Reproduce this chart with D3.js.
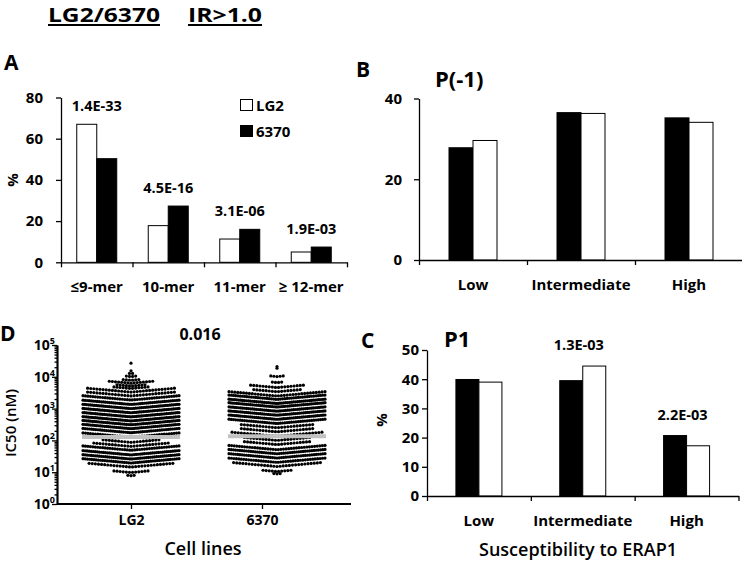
<!DOCTYPE html>
<html><head><meta charset="utf-8">
<script src="https://cdn.jsdelivr.net/npm/d3@7"></script>
<style>
body{margin:0;background:#fff}
svg{display:block}
text{font-family:"Open Sans",sans-serif;fill:#000}
</style>
</head><body>
<svg id="c" width="742" height="561"></svg>
<script>
// ---------- DATA ----------
// Panel A: peptide length distribution (%)
const merCategories = ["\u22649-mer", "10-mer", "11-mer", "\u2265 12-mer"];
const merLG2 = [67.0, 17.8, 11.3, 5.0];
const mer6370 = [50.3, 27.3, 16.0, 7.4];
const merPvals = ["1.4E-33", "4.5E-16", "3.1E-06", "1.9E-03"];
const merTicks = [0, 20, 40, 60, 80];

// Panels B and C: susceptibility to ERAP1
const susCategories = ["Low", "Intermediate", "High"];
const pm1_6370 = [27.8, 36.5, 35.2];
const pm1_LG2 = [29.6, 36.3, 34.1];
const pm1Ticks = [0, 20, 40];
const p1_6370 = [39.9, 39.5, 20.7];
const p1_LG2 = [39.0, 44.5, 17.2];
const p1Pvals = ["", "1.3E-03", "2.2E-03"];
const p1Ticks = [0, 10, 20, 30, 40, 50];

// Panel D: IC50 scatter, binned rows (IC50 nM of row, number of peptides in row)
const cellLines = ["LG2", "6370"];
const lg2RowIC50  = [26900, 15500, 12600, 10200, 7800, 6300, 5100, 4300, 3300, 2500, 1860, 1350, 1000, 740, 550, 410, 310, 234, 174, 126, 87, 65, 49, 35, 26, 19.5, 14.5, 9.8, 7.8];
const lg2RowCount = [1, 1, 2, 4, 6, 15, 10, 12, 29, 29, 40, 48, 52, 55, 55, 55, 52, 50, 46, 40, 19, 25, 40, 48, 48, 45, 28, 12, 3];
const c6370RowIC50  = [21000, 18600, 10200, 6600, 4600, 3400, 2500, 1950, 1450, 1120, 830, 620, 460, 340, 250, 186, 135, 100, 74, 51, 38, 28, 20.4, 15.1, 10.5, 8.9];
const c6370RowCount = [1, 1, 5, 4, 18, 16, 34, 44, 50, 50, 50, 50, 50, 44, 24, 24, 30, 22, 22, 38, 45, 45, 40, 29, 10, 3];
const medianIC50 = [128, 135];
const ic50Pval = "0.016";
const ic50Ticks = [1, 10, 100, 1000, 10000, 100000];

// ---------- DRAWING ----------
const svg = d3.select("#c");
svg.append("rect").attr("width", 742).attr("height", 561).attr("fill", "#fff");

function txt(x, y, s, size, weight, anchor) {
  return svg.append("text").attr("x", x).attr("y", y).text(s)
    .attr("font-size", size).attr("font-weight", weight || 700)
    .attr("text-anchor", anchor || "start");
}
function styleAxis(g, fs) {
  g.attr("font-family", null).attr("font-size", null);
  g.selectAll("path.domain").attr("stroke", "#000").attr("stroke-width", 1.3);
  g.selectAll(".tick line").attr("stroke", "#000").attr("stroke-width", 1.3);
  g.selectAll(".tick text").attr("font-size", fs).attr("font-weight", 700)
    .style("font-family", '"Open Sans",sans-serif');
}

// Title
txt(48, 21.5, "LG2/6370", 19.5, 700).attr("textLength", 112).attr("lengthAdjust", "spacingAndGlyphs");
txt(188, 21.5, "IR>1.0", 19.5, 700).attr("textLength", 74).attr("lengthAdjust", "spacingAndGlyphs");
svg.append("line").attr("x1", 48).attr("x2", 160).attr("y1", 25).attr("y2", 25).attr("stroke", "#000").attr("stroke-width", 2);
svg.append("line").attr("x1", 188).attr("x2", 262).attr("y1", 25).attr("y2", 25).attr("stroke", "#000").attr("stroke-width", 2);

// Panel letters
txt(4, 70, "A", 21, 700);
txt(356, 77, "B", 21, 700);
txt(0, 341, "D", 21, 700);
txt(361, 348, "C", 21, 700);

function barPanel(cfg) {
  const x = d3.scaleBand().domain(cfg.cats).range([cfg.left, cfg.right]).padding(0);
  const y = d3.scaleLinear().domain([0, cfg.yMax]).range([cfg.bottom, cfg.top]);
  const xs = d3.scaleBand().domain(d3.range(cfg.series.length)).range([-cfg.groupW / 2, cfg.groupW / 2]);
  const g = svg.append("g");
  cfg.series.forEach((s, si) => {
    g.selectAll(null).data(s.values).join("rect")
      .attr("x", (d, i) => x(cfg.cats[i]) + x.bandwidth() / 2 + xs(si))
      .attr("y", d => y(d))
      .attr("width", xs.bandwidth())
      .attr("height", d => cfg.bottom - y(d))
      .attr("fill", s.fill).attr("stroke", "#000").attr("stroke-width", 1);
  });
  const ya = svg.append("g").attr("transform", `translate(${cfg.left},0)`)
    .call(d3.axisLeft(y).tickValues(cfg.yTicks).tickSize(5).tickSizeOuter(0).tickPadding(cfg.tickPad));
  styleAxis(ya, 15);
  const xl = d3.scaleLinear().domain([0, cfg.cats.length]).range([cfg.left, cfg.right]);
  const xa = svg.append("g").attr("transform", `translate(0,${cfg.bottom})`)
    .call(d3.axisBottom(xl).tickValues(d3.range(cfg.cats.length + 1)).tickFormat("").tickSize(5).tickSizeOuter(0));
  styleAxis(xa, 15);
  g.selectAll(null).data(cfg.cats).join("text")
    .attr("x", d => x(d) + x.bandwidth() / 2).attr("y", cfg.labelY)
    .attr("text-anchor", "middle").attr("font-size", 15).attr("font-weight", 700).text(d => d);
  if (cfg.pvals) {
    g.selectAll(null).data(cfg.pvals).join("text")
      .attr("x", (d, i) => x(cfg.cats[i]) + x.bandwidth() / 2 + cfg.pDx)
      .attr("y", (d, i) => y(d3.max(cfg.series, s => s.values[i])) - cfg.pGap)
      .attr("text-anchor", "middle").attr("font-size", 14.5).attr("font-weight", 700).text(d => d);
  }
  return {x, y};
}

// Panel A
barPanel({cats: merCategories, series: [{values: merLG2, fill: "#fff"}, {values: mer6370, fill: "#000"}],
  yMax: 80, yTicks: merTicks, left: 61, right: 347, top: 97.5, bottom: 262.3, groupW: 40,
  labelY: 292, tickPad: 13, pvals: merPvals, pDx: 0, pGap: 13});
txt(0, 0, "%", 15, 700, "middle").attr("transform", "translate(18,180) rotate(-90)");
// legend
svg.append("rect").attr("x", 240.5).attr("y", 99.5).attr("width", 12).attr("height", 11).attr("fill", "#fff").attr("stroke", "#000");
svg.append("rect").attr("x", 240.5).attr("y", 125.5).attr("width", 12).attr("height", 11).attr("fill", "#000").attr("stroke", "#000");
txt(256, 110.5, "LG2", 15, 700);
txt(256, 136.5, "6370", 15, 700);

// Panel B
barPanel({cats: susCategories, series: [{values: pm1_6370, fill: "#000"}, {values: pm1_LG2, fill: "#fff"}],
  yMax: 40, yTicks: pm1Ticks, left: 419, right: 743, top: 98.5, bottom: 260, groupW: 48,
  labelY: 290, tickPad: 12});
txt(435, 87, "P(-1)", 22, 700);

// Panel C
barPanel({cats: susCategories, series: [{values: p1_6370, fill: "#000"}, {values: p1_LG2, fill: "#fff"}],
  yMax: 50, yTicks: p1Ticks, left: 427, right: 738.5, top: 350, bottom: 496, groupW: 46,
  labelY: 526, tickPad: 3, pvals: p1Pvals, pDx: -4, pGap: 16});
txt(444, 347, "P1", 22, 700);
txt(0, 0, "%", 15, 700, "middle").attr("transform", "translate(387,420) rotate(-90)");
txt(578, 556, "Susceptibility to ERAP1", 18, 600, "middle");

// Panel D
// tick/label positions and dot-column positions (the 6370 column sits right of its tick in the original)
const xTickD = d3.scalePoint().domain(cellLines).range([131, 262]);
const xColD = d3.scalePoint().domain(cellLines).range([131, 277]);
const yD = d3.scaleLog().domain([1, 100000]).range([504, 345]);
const rowsByCell = [
  lg2RowIC50.map((v, i) => ({v, n: lg2RowCount[i]})),
  c6370RowIC50.map((v, i) => ({v, n: c6370RowCount[i]}))
];
const dots = [];
rowsByCell.forEach((rows, ci) => {
  rows.forEach(r => {
    const sp = r.n > 1 ? Math.min(3.1, 96 / (r.n - 1)) : 0;
    for (let i = 0; i < r.n; i++) {
      const off = (i - (r.n - 1) / 2) * sp;
      dots.push({cell: cellLines[ci], v: r.v, off});
    }
  });
});
svg.append("g").selectAll("circle").data(dots).join("circle")
  .attr("cx", d => xColD(d.cell) + d.off)
  .attr("cy", d => yD(d.v) - Math.abs(d.off) * 0.09)
  .attr("r", 1.6).attr("fill", "#000");
svg.append("g").selectAll("line").data(medianIC50).join("line")
  .attr("x1", (d, i) => xColD(cellLines[i]) - 49).attr("x2", (d, i) => xColD(cellLines[i]) + 49)
  .attr("y1", d => yD(d)).attr("y2", d => yD(d))
  .attr("stroke", "#c2c2c2").attr("stroke-width", 4);

const minorVals = [];
for (let e = 0; e < 5; e++) for (let k = 2; k <= 9; k++) minorVals.push(k * Math.pow(10, e));
const yam = svg.append("g").attr("transform", "translate(57,0)")
  .call(d3.axisLeft(yD).tickValues(minorVals).tickFormat("").tickSize(2.5).tickSizeOuter(0));
styleAxis(yam, 13);
const yaD = svg.append("g").attr("transform", "translate(57,0)")
  .call(d3.axisLeft(yD).tickValues(ic50Ticks).tickFormat("").tickSize(5).tickSizeOuter(0));
styleAxis(yaD, 13);
yaD.select("path.domain").attr("stroke-width", 2);
svg.append("g").selectAll("text").data(ic50Ticks).join("text")
  .attr("x", 55).attr("y", d => yD(d) + 5).attr("text-anchor", "end")
  .attr("font-size", 14).attr("font-weight", 700)
  .each(function(d) {
    const t = d3.select(this);
    t.append("tspan").text("10");
    t.append("tspan").attr("font-size", 9).attr("dy", -6).text(Math.round(Math.log10(d)));
  });
const xaD = svg.append("g").attr("transform", "translate(0,504)")
  .call(d3.axisBottom(xTickD).tickSize(5).tickSizeOuter(0).tickPadding(6));
styleAxis(xaD, 14);
xaD.select("path.domain").attr("stroke-width", 2).attr("d", "M57,0H351");
txt(200, 340, ic50Pval, 16, 700, "middle");
txt(0, 0, "IC50 (nM)", 15, 600, "middle").attr("transform", "translate(16,423) rotate(-90)");
txt(203, 555, "Cell lines", 18, 600, "middle");
</script>
</body></html>
